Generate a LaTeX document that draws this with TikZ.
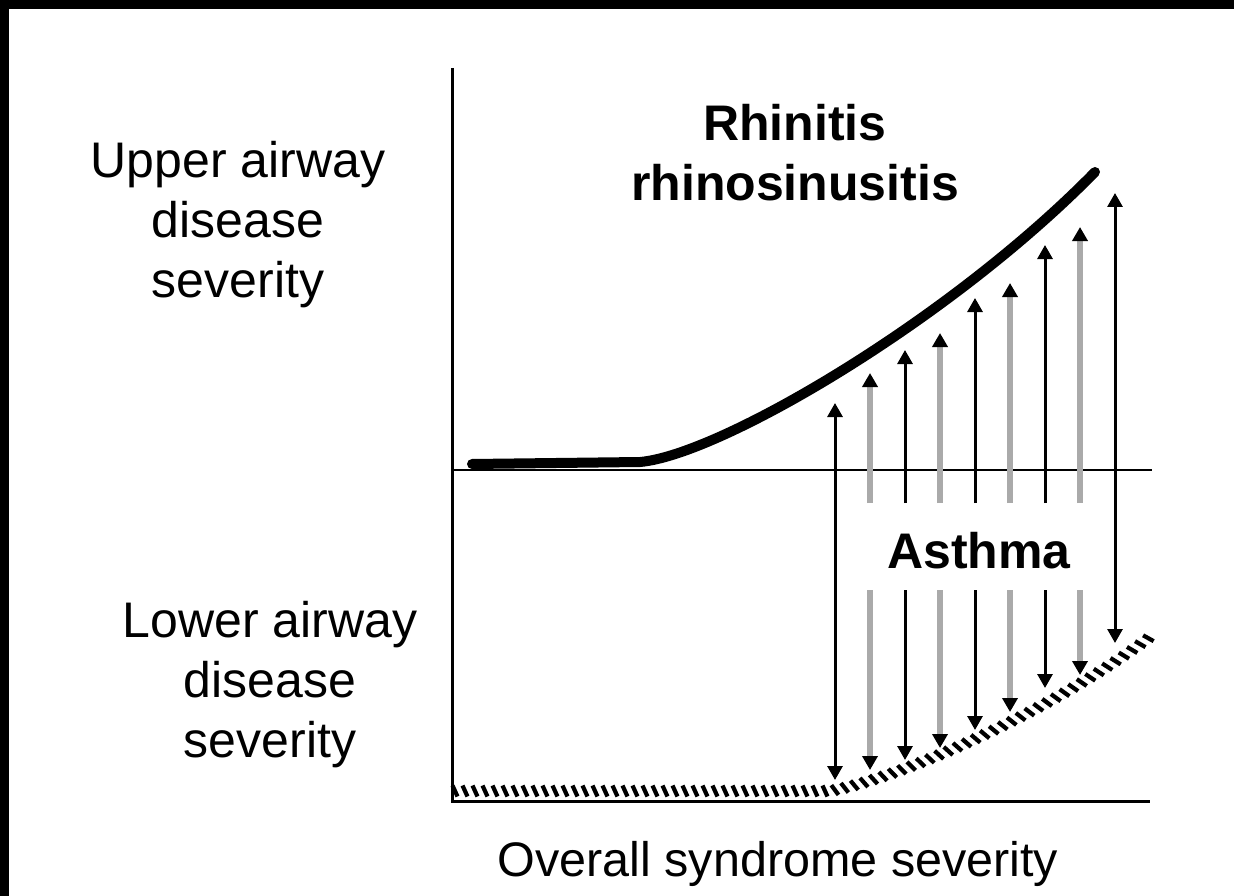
\documentclass[tikz,border=0pt]{standalone}
\usepackage{fontspec}
\setmainfont{Liberation Sans}
\usetikzlibrary{arrows.meta,decorations.markings}
\tikzset{
  axis/.style={line width=3pt, black},
  upper/.style={line width=10pt, black, line cap=round},
  hatch/.style={postaction={decorate}, decoration={markings,
      mark=between positions 3pt and 1 step 10pt with {\draw[line width=4.2pt, black] (-2.5pt,5.5pt) -- (2.5pt,-5.5pt);}}},
  blk/.style={line width=3pt, black},
  gry/.style={line width=5.5pt, draw={rgb,255:red,170;green,170;blue,170}},
  tipup/.style={-{Triangle[width=15pt,length=14pt,color=black]}},
  tipboth/.style={{Triangle[width=15pt,length=14pt,color=black]}-{Triangle[width=15pt,length=14pt,color=black]}},
  lbl/.style={inner sep=0pt, align=center, font=\fontsize{50}{60}\selectfont},
  blbl/.style={lbl, font=\fontsize{50}{60}\selectfont\bfseries},
}
\begin{document}
\begin{tikzpicture}[x=1pt,y=-1pt]
\useasboundingbox (0,0) rectangle (1234,896);
\fill[white] (0,0) rectangle (1234,896);
\fill[black] (0,0) rectangle (1234,9);
\fill[black] (0,0) rectangle (9,896);

% axes
\coordinate (ytop) at (452,68);
\coordinate (orig) at (452,801);
\coordinate (xend) at (1150,801);
\coordinate (midL) at (452,470);
\coordinate (midR) at (1152,470);
\draw[axis] (ytop) -- (orig) -- (xend);
\draw[axis, line width=2.5pt] (midL) -- (midR);

% lower (hatched) curve
\coordinate (h0) at (452,791);
\coordinate (h1) at (830,791);
\coordinate (h2) at (1150,637);
\path[hatch] (h0) -- (h1) .. controls (900,778) and (1050,712) .. (h2);

% upper thick curve
\coordinate (c0) at (472,464);
\coordinate (c1) at (640,462);
\coordinate (c2) at (1095,172);
\draw[upper] (c0) -- (c1) .. controls (720,455) and (950,320) .. (c2);

% arrows
\foreach \x/\u/\d/\c [count=\i] in {835/403/780/blk, 870/373/770/gry, 905/350/760/blk, 940/333/748/gry, 975/298/730/blk, 1010/283/712/gry, 1045/245/688/blk, 1080/227/675/gry, 1115/193/643/blk}{
  \coordinate (up\i) at (\x,\u);
  \coordinate (dn\i) at (\x,\d);
  \coordinate (ub\i) at (\x,503);
  \coordinate (lb\i) at (\x,590);
  \ifnum\i=1
    \draw[\c, tipboth] (dn\i) -- (up\i);
  \else\ifnum\i=9
    \draw[\c, tipboth] (dn\i) -- (up\i);
  \else
    \draw[\c, tipup] (ub\i) -- (up\i);
    \draw[\c, tipup] (lb\i) -- (dn\i);
  \fi\fi
}

% labels
\node[lbl, anchor=north] (upperlbl) at (238,141) {Upper airway\\disease\\severity};
\node[lbl, anchor=north] (lowerlbl) at (270,601) {Lower airway\\disease\\severity};
\node[blbl, anchor=north] (rhin) at (795,104) {Rhinitis\\rhinosinusitis};
\node[blbl, anchor=base] (asthma) at (979,568) {Asthma};
\node[lbl, anchor=base, font=\fontsize{48.5}{58}\selectfont] (overall) at (778,876) {Overall syndrome severity};
\end{tikzpicture}
\end{document}
